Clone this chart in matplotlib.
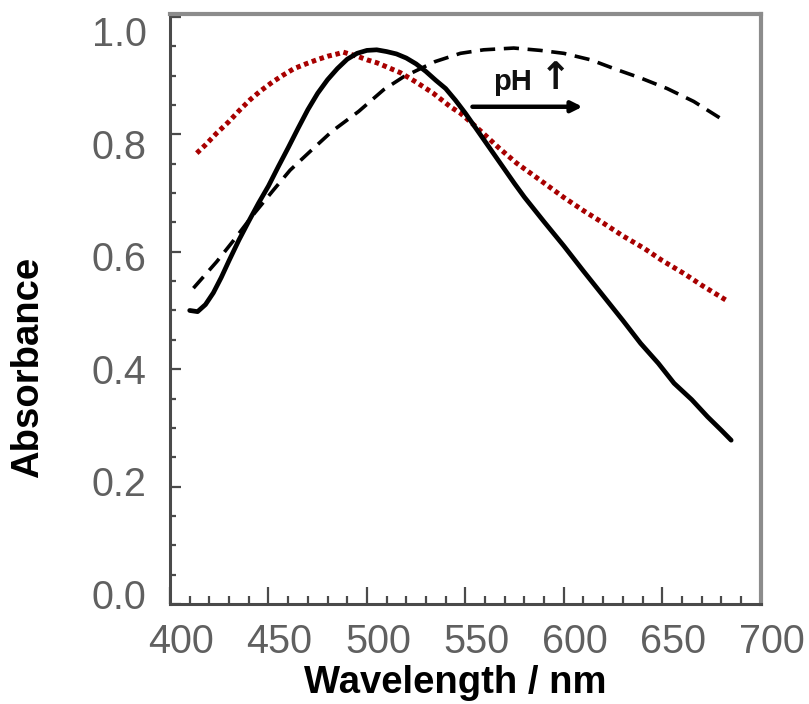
import matplotlib
matplotlib.use("Agg")
import matplotlib.pyplot as plt
from matplotlib.transforms import ScaledTranslation
from matplotlib.ticker import MultipleLocator

plt.rcParams['font.family'] = ['Liberation Sans', 'DejaVu Sans']

# ---- data ----
solid_wl = [410, 414, 418, 422, 426, 430, 435, 440, 445, 450, 455, 460, 465, 470,
            475, 480, 485, 490, 495, 500, 505, 510, 515, 520, 525, 530, 535, 540,
            545, 550, 555, 560, 565, 570, 575, 580, 590, 600, 610, 620, 630, 639,
            648, 656, 665, 673, 680, 685]
solid_abs = [0.500, 0.498, 0.510, 0.530, 0.556, 0.585, 0.620, 0.652, 0.683, 0.712,
             0.745, 0.777, 0.810, 0.842, 0.870, 0.893, 0.912, 0.928, 0.938, 0.943,
             0.944, 0.941, 0.937, 0.930, 0.920, 0.907, 0.892, 0.878, 0.858, 0.836,
             0.812, 0.788, 0.764, 0.740, 0.716, 0.693, 0.651, 0.610, 0.567, 0.525,
             0.483, 0.444, 0.410, 0.376, 0.348, 0.319, 0.296, 0.279]

dot_wl = [413.6, 418, 423.7, 430, 435, 440.7, 446, 452, 457.5, 463, 469, 474.6,
          480, 485, 488, 492, 496, 500, 505, 510, 517, 525, 533.7, 542.4, 547.5,
          553, 559, 567, 576, 588, 599.8, 610, 620, 630, 640.7, 650, 661, 670, 682.2]
dot_abs = [0.768, 0.782, 0.802, 0.822, 0.840, 0.859, 0.874, 0.889, 0.901, 0.912,
           0.920, 0.927, 0.933, 0.937, 0.940, 0.936, 0.932, 0.927, 0.922, 0.915,
           0.905, 0.889, 0.870, 0.847, 0.836, 0.820, 0.802, 0.777, 0.751, 0.722,
           0.693, 0.670, 0.649, 0.627, 0.606, 0.585, 0.563, 0.543, 0.518]

dash_wl = [411.9, 423.7, 432, 442, 452.5, 461, 471.2, 482.2, 495.8, 508.5, 518.6,
           534.7, 547.5, 559.3, 574.6, 588.1, 600, 613.6, 627.1, 639, 652.5, 666,
           679.7]
dash_abs = [0.538, 0.583, 0.618, 0.662, 0.705, 0.739, 0.771, 0.805, 0.839, 0.876,
            0.898, 0.924, 0.938, 0.944, 0.947, 0.943, 0.938, 0.927, 0.910, 0.896,
            0.878, 0.856, 0.827]

x_ticks = [400, 450, 500, 550, 600, 650, 700]
y_ticks = [0.0, 0.2, 0.4, 0.6, 0.8, 1.0]
x_label = "Wavelength / nm"
y_label = "Absorbance"
ph_text = "pH"
ph_arrow_glyph = "\u2191"
ph_text_pos = (564.0, 0.876)
ph_glyph_pos = (595.8, 0.877)
arrow_start = (553.6, 0.847)
arrow_end = (609.5, 0.847)

# ---- figure ----
fig = plt.figure(figsize=(8.09, 7.04), dpi=100)
ax = fig.add_axes([170/809, 1 - 604/704, (760.7 - 170)/809, (604 - 14)/704])

ax.plot(dash_wl, dash_abs, color='black', lw=2.6, linestyle=(0, (4.2, 2.4)))
ax.plot(dot_wl, dot_abs, color='#a80000', lw=3.6, linestyle=(0, (0.9, 0.75)),
        dash_capstyle='butt')
ax.plot(solid_wl, solid_abs, color='black', lw=3.4, solid_joinstyle='round',
        solid_capstyle='round')

ax.set_xlim(400, 700)
ax.set_ylim(0, 1.005)
ax.set_xticks(x_ticks)
ax.set_yticks(y_ticks)
ax.set_xticklabels([str(v) for v in x_ticks])
ax.set_yticklabels([f"{v:.1f}" for v in y_ticks])
ax.xaxis.set_minor_locator(MultipleLocator(10))
ax.yaxis.set_minor_locator(MultipleLocator(0.05))

tick_col = '#4a4a4a'
ax.tick_params(axis='x', which='major', direction='in', length=12, width=1.6,
               color=tick_col, pad=13.5, labelsize=28.5, labelcolor='#606060')
ax.tick_params(axis='x', which='minor', direction='in', length=5.5, width=1.6,
               color=tick_col)
ax.tick_params(axis='y', which='major', direction='in', length=8, width=1.6,
               color=tick_col, pad=17, labelsize=28.5, labelcolor='#606060')
ax.tick_params(axis='y', which='minor', direction='in', length=4.5, width=1.6,
               color=tick_col)
ax.tick_params(top=False, right=False, which='both')

for s in ['left', 'bottom']:
    ax.spines[s].set_color('#4a4a4a')
    ax.spines[s].set_linewidth(2.2)
for s in ['top', 'right']:
    ax.spines[s].set_color('#8c8c8c')
    ax.spines[s].set_linewidth(3.0)

# label offsets to mimic the reference placement
for lab in ax.get_xticklabels():
    lab.set_transform(lab.get_transform() + ScaledTranslation(11/100, 0, fig.dpi_scale_trans))
for i, lab in enumerate(ax.get_yticklabels()):
    down = -10 + 4.8 * i
    lab.set_transform(lab.get_transform() + ScaledTranslation(0, -down/100, fig.dpi_scale_trans))

fig.text(455/809, 1 - 683/704, x_label, ha='center', va='center',
         fontsize=27.5, fontweight='bold', color='black')
fig.text(28/809, 1 - 367/704, y_label, ha='center', va='center', rotation=90,
         fontsize=27.5, fontweight='bold', color='black')

ax.text(ph_text_pos[0], ph_text_pos[1], ph_text, ha='left', va='baseline',
        fontsize=21, fontweight='bold', color='#111111')
ax.text(ph_glyph_pos[0], ph_glyph_pos[1], ph_arrow_glyph, ha='center', va='baseline',
        fontsize=27, fontweight='bold', color='#111111', family=['DejaVu Sans'])
ax.annotate('', xy=arrow_end, xytext=arrow_start,
            arrowprops=dict(arrowstyle='-|>', lw=3.2, color='black',
                            mutation_scale=16, shrinkA=0, shrinkB=0))

fig.savefig('out.png', dpi=100)
